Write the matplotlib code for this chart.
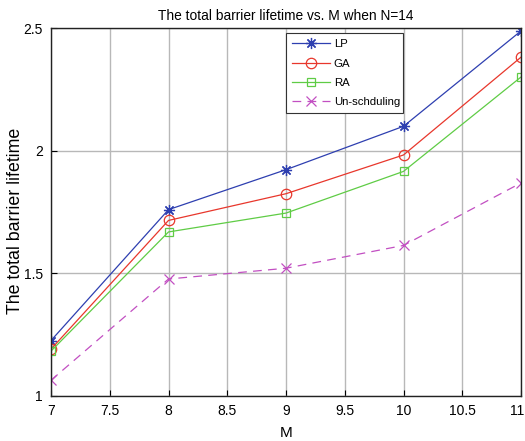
import matplotlib
matplotlib.use("Agg")
import matplotlib.pyplot as plt
from matplotlib.transforms import ScaledTranslation

plt.rcParams['font.family'] = ['Liberation Sans', 'DejaVu Sans']

M = [7, 8, 9, 10, 11]
lp = [1.225, 1.759, 1.922, 2.099, 2.488]
ga = [1.19, 1.715, 1.824, 1.982, 2.381]
ra = [1.182, 1.668, 1.745, 1.915, 2.300]
un = [1.063, 1.476, 1.52, 1.613, 1.868]

title = "The total barrier lifetime vs. M when N=14"
xlabel = "M"
ylabel = "The total barrier lifetime"
labels = ["LP", "GA", "RA", "Un-schduling"]

fig = plt.figure(figsize=(5.25, 4.41), dpi=100)
ax = fig.add_axes([51/525, 1-395.7/441, 470/525, 367.7/441])

ax.plot(M, lp, color='#2e3fb0', lw=0.9, marker=(8, 2, 0), ms=8, mew=0.9, label=labels[0])
ax.plot(M, ga, color='#e8372c', lw=0.9, marker='o', ms=7.5, mfc='none', mew=0.9, label=labels[1])
ax.plot(M, ra, color='#5fcc45', lw=0.9, marker='s', ms=6, mfc='none', mew=0.9, label=labels[2])
ax.plot(M, un, color='#c24fc2', lw=0.9, ls=(0, (7, 5)), marker='x', ms=7, mew=0.9, label=labels[3])

ax.set_xlim(7, 11)
ax.set_ylim(1, 2.5)
ax.set_xticks([7, 7.5, 8, 8.5, 9, 9.5, 10, 10.5, 11])
ax.set_xticklabels(['7', '7.5', '8', '8.5', '9', '9.5', '10', '10.5', '11'])
ax.set_yticks([1, 1.5, 2, 2.5])
ax.set_yticklabels(['1', '1.5', '2', '2.5'])
ax.grid(True, color='#b8b8b8', lw=1.0)
ax.tick_params(direction='in', length=4, labelsize=10, pad=6, width=0.8)
for s in ax.spines.values():
    s.set_linewidth(1.0)
    s.set_color('#222222')

last = ax.get_xticklabels()[-1]
last.set_transform(last.get_transform() + ScaledTranslation(-4/100, 0, fig.dpi_scale_trans))

ax.set_title(title, fontsize=9.9, pad=6)
ax.set_xlabel(xlabel, fontsize=11, labelpad=6)
ax.set_ylabel(ylabel, fontsize=12.8)
ax.yaxis.set_label_coords((24 - 51) / 470, (395.7 - 221) / 367.7)

leg = ax.legend(loc='upper left', bbox_to_anchor=(0.5, 0.774, 0.249, 0.212), mode='expand',
                fancybox=False, edgecolor='#333333', framealpha=1, fontsize=8.2,
                handlelength=3.3, borderaxespad=0, labelspacing=0.8, handletextpad=0.35,
                borderpad=0.55)
leg.get_frame().set_linewidth(0.8)

fig.savefig("out.png", dpi=100)
